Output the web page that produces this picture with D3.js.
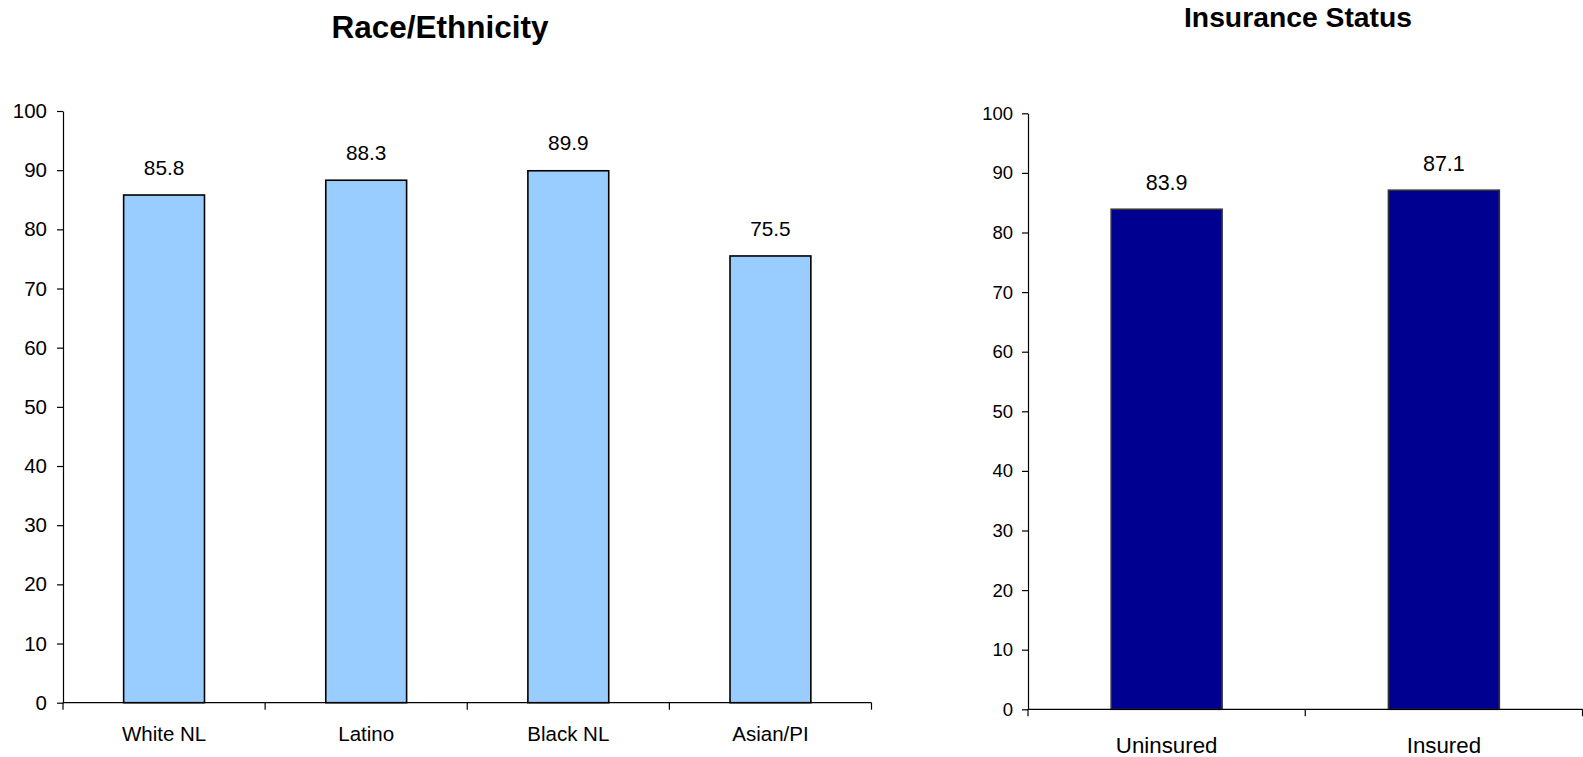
<!DOCTYPE html>
<html>
<head>
<meta charset="utf-8">
<script src="https://cdn.jsdelivr.net/npm/d3@7"></script>
<style>
  html, body { margin: 0; padding: 0; background: #fff; overflow: hidden; }
  svg { display: block; }
  text { font-family: "Liberation Sans", Arial, sans-serif; fill: #000; }
</style>
</head>
<body>
<svg id="chart" width="1583" height="757"></svg>
<script>
const raceCategories = ["White NL", "Latino", "Black NL", "Asian/PI"];
const raceValues = [85.8, 88.3, 89.9, 75.5];
const insuranceCategories = ["Uninsured", "Insured"];
const insuranceValues = [83.9, 87.1];
const yTicks = [0, 10, 20, 30, 40, 50, 60, 70, 80, 90, 100];

const svg = d3.select("#chart");

function drawPanel(cfg) {
  const g = svg.append("g");
  const x = d3.scaleBand().domain(cfg.categories).range([cfg.x0, cfg.x1]).padding(0);
  const y = d3.scaleLinear().domain([0, 100]).range([cfg.y0, cfg.y1]);

  // bars
  g.selectAll("rect.bar").data(cfg.values).enter().append("rect")
    .attr("class", "bar")
    .attr("x", (d, i) => x(cfg.categories[i]) + x.bandwidth() * 0.3)
    .attr("width", x.bandwidth() * 0.4)
    .attr("y", d => y(d))
    .attr("height", d => y(0) - y(d))
    .attr("fill", cfg.fill)
    .attr("stroke", cfg.stroke)
    .attr("stroke-width", 1.6);

  // y axis
  const yAxis = g.append("g")
    .attr("transform", `translate(${cfg.x0},0)`)
    .call(d3.axisLeft(y).tickValues(yTicks).tickSize(6).tickPadding(cfg.tickPad).tickSizeOuter(0));
  yAxis.select(".domain").attr("stroke", "#000").attr("stroke-width", 1.2);
  yAxis.selectAll(".tick line").attr("stroke", "#000").attr("stroke-width", 1.2);
  yAxis.selectAll(".tick text")
    .style("font-family", '"Liberation Sans", Arial, sans-serif')
    .style("font-size", cfg.tickFont + "px")
    .attr("fill", "#000");

  // x axis line
  g.append("line")
    .attr("x1", cfg.x0).attr("x2", cfg.x1)
    .attr("y1", y(0)).attr("y2", y(0))
    .attr("stroke", "#000").attr("stroke-width", 1.2);

  // category boundary ticks
  const bounds = cfg.categories.map(c => x(c)).concat([cfg.x1]);
  g.selectAll("line.ctick").data(bounds).enter().append("line")
    .attr("class", "ctick")
    .attr("x1", d => d).attr("x2", d => d)
    .attr("y1", y(0)).attr("y2", y(0) + 7)
    .attr("stroke", "#000").attr("stroke-width", 1.2);

  // category labels
  g.selectAll("text.cat").data(cfg.categories).enter().append("text")
    .attr("class", "cat")
    .attr("x", d => x(d) + x.bandwidth() / 2)
    .attr("y", cfg.catY)
    .attr("text-anchor", "middle")
    .style("font-size", cfg.catFont + "px")
    .text(d => d);

  // value labels
  g.selectAll("text.val").data(cfg.values).enter().append("text")
    .attr("class", "val")
    .attr("x", (d, i) => x(cfg.categories[i]) + x.bandwidth() / 2)
    .attr("y", d => y(d) - cfg.valOffset)
    .attr("text-anchor", "middle")
    .style("font-size", cfg.valFont + "px")
    .text(d => d.toFixed(1));

  // title
  g.append("text")
    .attr("x", cfg.titleX).attr("y", cfg.titleY)
    .attr("text-anchor", "middle")
    .style("font-size", cfg.titleFont + "px")
    .style("font-weight", "bold")
    .text(cfg.title);
}

drawPanel({
  categories: raceCategories, values: raceValues,
  x0: 63, x1: 871.5, y0: 702.7, y1: 111,
  fill: "#99CCFF", stroke: "#000",
  tickPad: 10, tickFont: 20.5, catFont: 20.5, catY: 740.5,
  valFont: 20.8, valOffset: 20.3,
  title: "Race/Ethnicity", titleX: 440, titleY: 37.7, titleFont: 31.5
});

drawPanel({
  categories: insuranceCategories, values: insuranceValues,
  x0: 1028, x1: 1582.5, y0: 709.3, y1: 113.3,
  fill: "#000090", stroke: "#333",
  tickPad: 9, tickFont: 18.5, catFont: 22.3, catY: 752.5,
  valFont: 21.5, valOffset: 19.3,
  title: "Insurance Status", titleX: 1298, titleY: 26.5, titleFont: 28.3
});
</script>
</body>
</html>
